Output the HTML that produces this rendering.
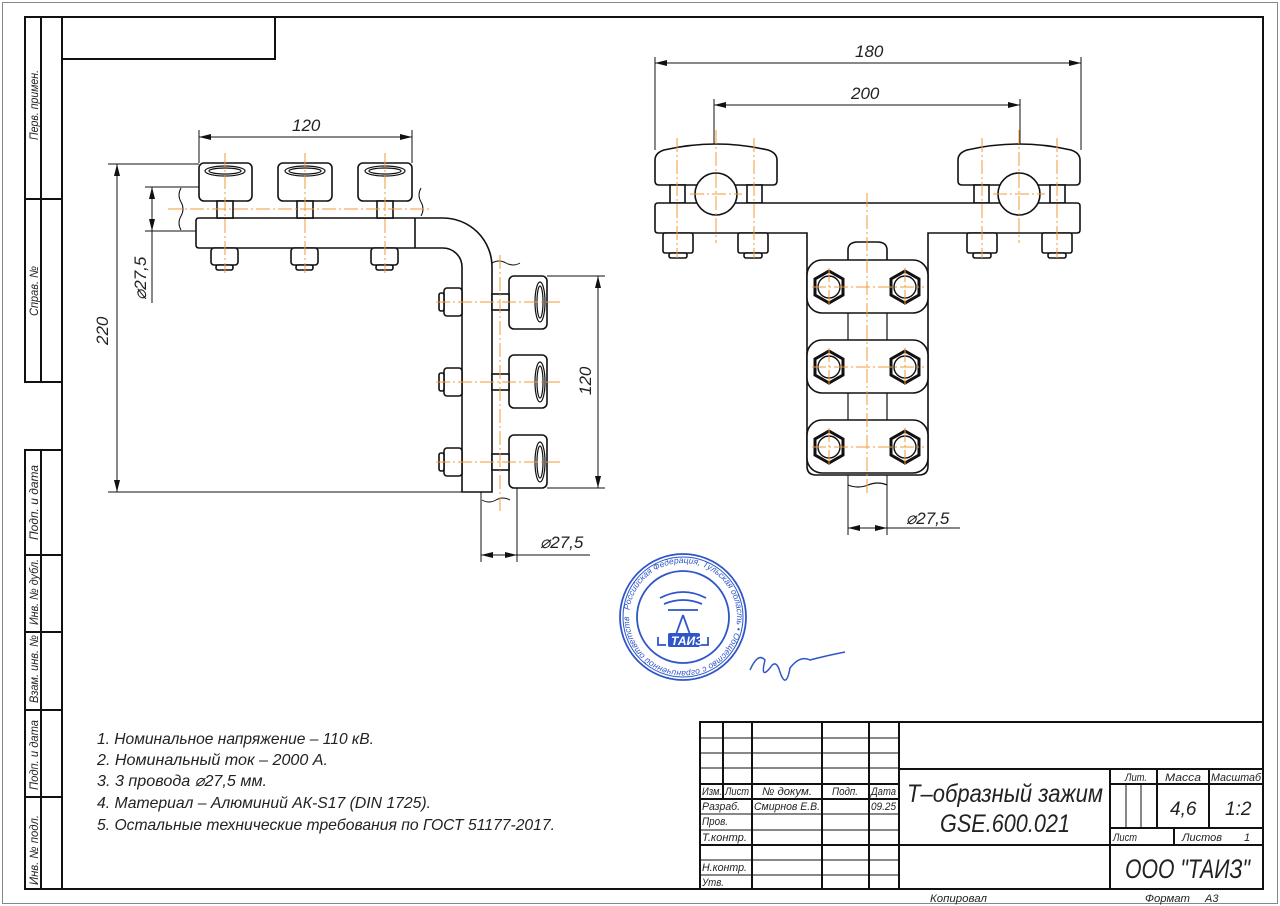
<!DOCTYPE html>
<html><head><meta charset="utf-8"><style>
html,body{margin:0;padding:0;background:#fff;}
svg{display:block;}
text{font-family:"Liberation Sans",sans-serif;font-style:italic;fill:#222;}
</style></head><body>
<svg width="1280" height="906" viewBox="0 0 1280 906" xmlns="http://www.w3.org/2000/svg">
<defs>
<marker id="a" viewBox="0 0 12 6" refX="12" refY="3" markerWidth="12" markerHeight="6" orient="auto-start-reverse" markerUnits="userSpaceOnUse"><path d="M0,0 L12,3 L0,6 Z" fill="#111"/></marker>
</defs>
<rect x="2.5" y="2.5" width="1275" height="901" fill="none" stroke="#888" stroke-width="1"/>
<g fill="none" stroke="#111" stroke-width="2">
<rect x="62" y="17" width="1201" height="872"/>
<rect x="62" y="17" width="213" height="42"/>
<rect x="25" y="17" width="37" height="365"/>
<line x1="41" y1="17" x2="41" y2="382"/>
<line x1="25" y1="199" x2="62" y2="199"/>
<rect x="25" y="450" width="37" height="439"/>
<line x1="41" y1="450" x2="41" y2="889"/>
<line x1="25" y1="555" x2="62" y2="555"/>
<line x1="25" y1="632" x2="62" y2="632"/>
<line x1="25" y1="710" x2="62" y2="710"/>
<line x1="25" y1="797" x2="62" y2="797"/>
<rect x="700" y="722" width="563" height="167"/>
<line x1="723" y1="722" x2="723" y2="799"/>
<line x1="752" y1="722" x2="752" y2="889"/>
<line x1="822" y1="722" x2="822" y2="889"/>
<line x1="869" y1="722" x2="869" y2="889"/>
<line x1="899" y1="722" x2="899" y2="889"/>
<line x1="700" y1="784" x2="899" y2="784"/>
<line x1="700" y1="799" x2="899" y2="799"/>
<line x1="700" y1="845" x2="899" y2="845"/>
<line x1="899" y1="769" x2="1263" y2="769"/>
<line x1="899" y1="845" x2="1263" y2="845"/>
<line x1="1110" y1="769" x2="1110" y2="889"/>
<line x1="1110" y1="784" x2="1263" y2="784"/>
<line x1="1110" y1="828" x2="1263" y2="828"/>
<line x1="1157" y1="769" x2="1157" y2="828"/>
<line x1="1209" y1="769" x2="1209" y2="828"/>
<line x1="1174" y1="828" x2="1174" y2="845"/>
<line x1="1126" y1="784" x2="1126" y2="828" stroke-width="1"/>
<line x1="1141" y1="784" x2="1141" y2="828" stroke-width="1"/>
</g>
<g stroke="#111" stroke-width="1">
<line x1="700" y1="738" x2="899" y2="738"/><line x1="700" y1="753" x2="899" y2="753"/><line x1="700" y1="768" x2="899" y2="768"/>
<line x1="700" y1="814" x2="899" y2="814"/><line x1="700" y1="830" x2="899" y2="830"/><line x1="700" y1="860" x2="899" y2="860"/><line x1="700" y1="875" x2="899" y2="875"/>
</g>
<g font-size="12">
<text transform="translate(38,140) rotate(-90)" textLength="70" lengthAdjust="spacingAndGlyphs">Перв. примен.</text>
<text transform="translate(38,316) rotate(-90)" textLength="50" lengthAdjust="spacingAndGlyphs">Справ. №</text>
<text transform="translate(38,540) rotate(-90)" textLength="75" lengthAdjust="spacingAndGlyphs">Подп. и дата</text>
<text transform="translate(38,625) rotate(-90)" textLength="66" lengthAdjust="spacingAndGlyphs">Инв. № дубл.</text>
<text transform="translate(38,703) rotate(-90)" textLength="68" lengthAdjust="spacingAndGlyphs">Взам. инв. №</text>
<text transform="translate(38,790) rotate(-90)" textLength="70" lengthAdjust="spacingAndGlyphs">Подп. и дата</text>
<text transform="translate(38,885) rotate(-90)" textLength="70" lengthAdjust="spacingAndGlyphs">Инв. № подл.</text>
</g>
<g font-size="11">
<text x="702" y="795" textLength="20" lengthAdjust="spacingAndGlyphs">Изм.</text><text x="725" y="795" textLength="24" lengthAdjust="spacingAndGlyphs">Лист</text>
<text x="762" y="795" textLength="50" lengthAdjust="spacingAndGlyphs">№ докум.</text><text x="832" y="795" textLength="26" lengthAdjust="spacingAndGlyphs">Подп.</text><text x="871" y="795" textLength="25" lengthAdjust="spacingAndGlyphs">Дата</text>
<text x="702" y="810" textLength="38" lengthAdjust="spacingAndGlyphs">Разраб.</text><text x="754" y="810" textLength="66" lengthAdjust="spacingAndGlyphs">Смирнов Е.В.</text><text x="871" y="810" textLength="25" lengthAdjust="spacingAndGlyphs">09.25</text>
<text x="702" y="825" textLength="26" lengthAdjust="spacingAndGlyphs">Пров.</text>
<text x="702" y="841" textLength="45" lengthAdjust="spacingAndGlyphs">Т.контр.</text>
<text x="702" y="871" textLength="45" lengthAdjust="spacingAndGlyphs">Н.контр.</text>
<text x="702" y="886" textLength="22" lengthAdjust="spacingAndGlyphs">Утв.</text>
<text x="1125" y="781" textLength="22" lengthAdjust="spacingAndGlyphs">Лит.</text><text x="1165" y="781" textLength="36" lengthAdjust="spacingAndGlyphs">Масса</text><text x="1211" y="781" textLength="50" lengthAdjust="spacingAndGlyphs">Масштаб</text>
<text x="1113" y="841" textLength="24" lengthAdjust="spacingAndGlyphs">Лист</text><text x="1182" y="841" textLength="40" lengthAdjust="spacingAndGlyphs">Листов</text><text x="1244" y="841">1</text>
<text x="930" y="902" textLength="57" lengthAdjust="spacingAndGlyphs">Копировал</text><text x="1145" y="902" textLength="45" lengthAdjust="spacingAndGlyphs">Формат</text><text x="1205" y="902">А3</text>
</g>
<text x="907" y="802" font-size="25" textLength="196" lengthAdjust="spacingAndGlyphs">Т–образный зажим</text>
<text x="940" y="832" font-size="25" textLength="130" lengthAdjust="spacingAndGlyphs">GSE.600.021</text>
<text x="1170" y="815" font-size="19">4,6</text>
<text x="1225" y="815" font-size="19">1:2</text>
<text x="1125" y="878" font-size="27" textLength="125" lengthAdjust="spacingAndGlyphs">ООО "ТАИЗ"</text>
<g font-size="16">
<text x="97" y="744" textLength="277" lengthAdjust="spacingAndGlyphs">1. Номинальное напряжение – 110 кВ.</text>
<text x="97" y="765" textLength="231" lengthAdjust="spacingAndGlyphs">2. Номинальный ток – 2000 А.</text>
<text x="97" y="786" textLength="170" lengthAdjust="spacingAndGlyphs">3. 3 провода ⌀27,5 мм.</text>
<text x="97" y="808" textLength="334" lengthAdjust="spacingAndGlyphs">4. Материал – Алюминий АК-S17 (DIN 1725).</text>
<text x="97" y="830" textLength="458" lengthAdjust="spacingAndGlyphs">5. Остальные технические требования по ГОСТ 51177-2017.</text>
</g>

<g fill="none" stroke="#111" stroke-width="1">
<line x1="199" y1="130" x2="199" y2="163"/><line x1="412" y1="130" x2="412" y2="163"/>
<line x1="199" y1="137" x2="412" y2="137" marker-start="url(#a)" marker-end="url(#a)"/>
<line x1="108" y1="164" x2="199" y2="164"/><line x1="108" y1="492" x2="462" y2="492"/>
<line x1="117" y1="164" x2="117" y2="492" marker-start="url(#a)" marker-end="url(#a)"/>
<line x1="145" y1="187" x2="199" y2="187"/><line x1="145" y1="231" x2="196" y2="231"/>
<line x1="152" y1="187" x2="152" y2="231" marker-start="url(#a)" marker-end="url(#a)"/>
<line x1="152" y1="231" x2="152" y2="303"/>
<path d="M181,188 q-4,7 0,14 q4,7 0,14 q-4,7 0,14"/>
<path d="M421,188 q-4,7 0,14 q4,7 0,14" />
<line x1="547" y1="276" x2="605" y2="276"/><line x1="547" y1="488" x2="605" y2="488"/>
<line x1="598" y1="276" x2="598" y2="488" marker-start="url(#a)" marker-end="url(#a)"/>
<line x1="481" y1="492" x2="481" y2="562"/><line x1="517" y1="488" x2="517" y2="562"/>
<line x1="481" y1="555" x2="517" y2="555" marker-start="url(#a)" marker-end="url(#a)"/>
<line x1="517" y1="555" x2="590" y2="555"/>
<path d="M492,263 q7,-4 14,0 q7,4 14,0"/>
<path d="M482,500 q7,4 14,0 q7,-4 14,0"/>
</g>
<g font-size="17">
<text x="292" y="131">120</text>
<text transform="translate(108,345) rotate(-90)">220</text>
<text transform="translate(146,300) rotate(-90)">⌀27,5</text>
<text transform="translate(591,395) rotate(-90)">120</text>
<text x="540" y="548">⌀27,5</text>
</g>
<g fill="#fff" stroke="#111" stroke-width="1.6">
<path d="M196,221 Q196,218 199,218 L443,218 A49,49 0 0 1 492,267 L492,492 L462,492 L462,267 A19,19 0 0 0 443,248 L199,248 Q196,248 196,245 Z"/>
<line x1="415" y1="218" x2="415" y2="248"/>
<rect x="199" y="163" width="53" height="38" rx="5"/>
<rect x="278" y="163" width="54" height="38" rx="5"/>
<rect x="358" y="163" width="54" height="38" rx="5"/>
<rect x="217" y="201" width="16" height="17"/><rect x="297" y="201" width="16" height="17"/><rect x="377" y="201" width="16" height="17"/>
<rect x="211" y="248" width="27" height="17" rx="3"/><rect x="291" y="248" width="27" height="17" rx="3"/><rect x="371" y="248" width="27" height="17" rx="3"/>
<rect x="216" y="265" width="17" height="5" rx="2"/><rect x="296" y="265" width="17" height="5" rx="2"/><rect x="376" y="265" width="17" height="5" rx="2"/>
<rect x="509" y="276" width="38" height="53" rx="5"/>
<rect x="509" y="355" width="38" height="53" rx="5"/>
<rect x="509" y="435" width="38" height="53" rx="5"/>
<rect x="492" y="294" width="17" height="16"/><rect x="492" y="374" width="17" height="16"/><rect x="492" y="454" width="17" height="16"/>
<rect x="444" y="288" width="18" height="28" rx="3"/><rect x="444" y="368" width="18" height="28" rx="3"/><rect x="444" y="448" width="18" height="28" rx="3"/>
<rect x="439" y="293" width="5" height="18" rx="2"/><rect x="439" y="373" width="5" height="18" rx="2"/><rect x="439" y="453" width="5" height="18" rx="2"/>
</g>
<g fill="none" stroke="#111" stroke-width="1.2">
<ellipse cx="225" cy="171" rx="20" ry="5"/><ellipse cx="225" cy="171" rx="16" ry="3"/>
<ellipse cx="305" cy="171" rx="20" ry="5"/><ellipse cx="305" cy="171" rx="16" ry="3"/>
<ellipse cx="385" cy="171" rx="20" ry="5"/><ellipse cx="385" cy="171" rx="16" ry="3"/>
<ellipse cx="540" cy="302" rx="5" ry="20"/><ellipse cx="540" cy="302" rx="3" ry="16"/>
<ellipse cx="540" cy="382" rx="5" ry="20"/><ellipse cx="540" cy="382" rx="3" ry="16"/>
<ellipse cx="540" cy="462" rx="5" ry="20"/><ellipse cx="540" cy="462" rx="3" ry="16"/>
</g>
<g stroke="#f39a3c" stroke-width="1" stroke-dasharray="14,3,2,3">
<line x1="225" y1="153" x2="225" y2="273"/><line x1="305" y1="153" x2="305" y2="273"/><line x1="385" y1="153" x2="385" y2="273"/>
<line x1="168" y1="209" x2="430" y2="209"/>
<line x1="436" y1="302" x2="560" y2="302"/><line x1="436" y1="382" x2="560" y2="382"/><line x1="436" y1="462" x2="560" y2="462"/>
<line x1="500" y1="255" x2="500" y2="512"/>
</g>

<g fill="none" stroke="#111" stroke-width="1">
<line x1="655" y1="57" x2="655" y2="150"/><line x1="1081" y1="57" x2="1081" y2="150"/>
<line x1="655" y1="63" x2="1081" y2="63" marker-start="url(#a)" marker-end="url(#a)"/>
<line x1="714" y1="99" x2="714" y2="170"/><line x1="1020" y1="99" x2="1020" y2="170"/>
<line x1="714" y1="105" x2="1020" y2="105" marker-start="url(#a)" marker-end="url(#a)"/>
<line x1="848" y1="475" x2="848" y2="535"/><line x1="887" y1="475" x2="887" y2="535"/>
<line x1="848" y1="528" x2="887" y2="528" marker-start="url(#a)" marker-end="url(#a)"/>
<line x1="887" y1="528" x2="960" y2="528"/>
</g>
<text x="855" y="57" font-size="17">180</text>
<text x="851" y="99" font-size="17">200</text>
<text x="906" y="524" font-size="17">⌀27,5</text>
<g fill="#fff" stroke="#111" stroke-width="1.6">
<path d="M655,181 L655,160 Q655,153 664,150 Q716,138 768,150 Q777,153 777,160 L777,181 Q777,185 773,185 L659,185 Q655,185 655,181 Z"/>
<path d="M958,181 L958,160 Q958,153 967,150 Q1019,138 1071,150 Q1080,153 1080,160 L1080,181 Q1080,185 1076,185 L962,185 Q958,185 958,181 Z"/>
<rect x="670" y="185" width="15" height="18"/><rect x="747" y="185" width="15" height="18"/>
<rect x="974" y="185" width="15" height="18"/><rect x="1050" y="185" width="15" height="18"/>
<path d="M655,206 Q655,203 658,203 L1077,203 Q1080,203 1080,206 L1080,230 Q1080,233 1077,233 L928,233 L928,466 Q928,475 919,475 L816,475 Q807,475 807,466 L807,233 L658,233 Q655,233 655,230 Z"/>
<rect x="663" y="233" width="30" height="20" rx="2"/><rect x="738" y="233" width="30" height="20" rx="2"/>
<rect x="967" y="233" width="30" height="20" rx="2"/><rect x="1042" y="233" width="30" height="20" rx="2"/>
<rect x="669" y="253" width="18" height="5" rx="2"/><rect x="744" y="253" width="18" height="5" rx="2"/>
<rect x="973" y="253" width="18" height="5" rx="2"/><rect x="1048" y="253" width="18" height="5" rx="2"/>
<circle cx="716" cy="194" r="21"/><circle cx="1019" cy="194" r="21"/>
<path d="M848,260 L848,250 Q848,242 858,242 L877,242 Q887,242 887,250 L887,260"/>
<rect x="807" y="260" width="121" height="53" rx="15"/>
<rect x="807" y="340" width="121" height="53" rx="15"/>
<rect x="807" y="420" width="121" height="53" rx="15"/>
</g>
<g stroke="#111" stroke-width="1.2" fill="none">
<line x1="848" y1="313" x2="848" y2="340"/><line x1="887" y1="313" x2="887" y2="340"/>
<line x1="848" y1="393" x2="848" y2="420"/><line x1="887" y1="393" x2="887" y2="420"/>
<path d="M848,485 q10,4 20,0 q10,-4 19,0"/>
</g>
<g fill="#fff" stroke="#111" stroke-width="3">
<polygon points="829,271 843,279 843,295 829,303 815,295 815,279"/><circle cx="829" cy="287" r="11" stroke-width="1.4"/>
<polygon points="905,271 919,279 919,295 905,303 891,295 891,279"/><circle cx="905" cy="287" r="11" stroke-width="1.4"/>
<polygon points="829,351 843,359 843,375 829,383 815,375 815,359"/><circle cx="829" cy="367" r="11" stroke-width="1.4"/>
<polygon points="905,351 919,359 919,375 905,383 891,375 891,359"/><circle cx="905" cy="367" r="11" stroke-width="1.4"/>
<polygon points="829,431 843,439 843,455 829,463 815,455 815,439"/><circle cx="829" cy="447" r="11" stroke-width="1.4"/>
<polygon points="905,431 919,439 919,455 905,463 891,455 891,439"/><circle cx="905" cy="447" r="11" stroke-width="1.4"/>
</g>
<g stroke="#f39a3c" stroke-width="1" stroke-dasharray="14,3,2,3">
<line x1="677" y1="138" x2="677" y2="258"/><line x1="716" y1="130" x2="716" y2="243"/><line x1="754" y1="138" x2="754" y2="258"/>
<line x1="982" y1="138" x2="982" y2="258"/><line x1="1019" y1="130" x2="1019" y2="243"/><line x1="1057" y1="138" x2="1057" y2="258"/>
<line x1="690" y1="194" x2="742" y2="194"/><line x1="993" y1="194" x2="1045" y2="194"/>
<line x1="867" y1="193" x2="867" y2="494"/>
<line x1="812" y1="287" x2="924" y2="287"/><line x1="812" y1="367" x2="924" y2="367"/><line x1="812" y1="447" x2="924" y2="447"/>
<line x1="829" y1="268" x2="829" y2="306"/><line x1="905" y1="268" x2="905" y2="306"/>
<line x1="829" y1="348" x2="829" y2="386"/><line x1="905" y1="348" x2="905" y2="386"/>
<line x1="829" y1="428" x2="829" y2="466"/><line x1="905" y1="428" x2="905" y2="466"/>
</g>

<g fill="none" stroke="#2f56c9" stroke-width="1.8">
<circle cx="683" cy="617" r="63"/><circle cx="683" cy="617" r="60" stroke-width="1"/>
<circle cx="683" cy="617" r="46"/>
<path d="M660,598 Q683,586 706,598 M664,604 Q683,596 702,604 M668,610 L698,610"/>
<path d="M683,615 L674,640 M683,615 L692,640"/>
<path d="M658,637 L658,645 L666,645 M708,637 L708,645 L700,645"/>
</g>
<rect x="668" y="633" width="32" height="14" fill="#2f56c9" rx="2"/>
<text x="671" y="645" font-size="12" font-weight="bold" font-style="normal" style="fill:#fff">ТАИЗ</text>
<path id="sc" d="M683,617 m-54,0 a54,54 0 1,1 108,0 a54,54 0 1,1 -108,0" fill="none"/>
<text font-size="8.5" style="fill:#2f56c9" font-style="normal"><textPath href="#sc" startOffset="2%">Российская Федерация, Тульская область • Общество с ограниченной ответственностью • </textPath></text>
<path d="M750,670 Q758,652 765,660 Q760,680 770,668 Q776,658 780,672 Q786,690 790,668 Q800,655 810,660 Q825,656 845,652" fill="none" stroke="#2f56c9" stroke-width="1.5"/>
</svg>
</body></html>
